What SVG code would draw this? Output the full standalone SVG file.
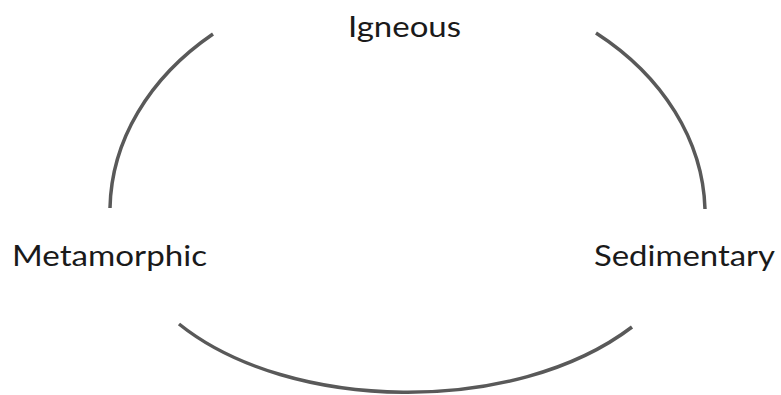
<svg xmlns="http://www.w3.org/2000/svg" width="781" height="395" viewBox="0 0 781 395">
<style>
.arc{fill:none;stroke:#595959;stroke-width:3.5}
.lbl{font-family:Lato,"Open Sans",sans-serif;font-size:28px;fill:#1a1a1a}
</style>
<rect width="781" height="395" fill="#fff"/>
<g id="connectors">
<path class="arc" d="M213,34 A299,235 0 0 0 110,208"/>
<path class="arc" d="M596,33 A299,235 0 0 1 705,209"/>
<path class="arc" d="M179,324 C290,413 515,416 632,327"/>
</g>
<g id="igneous"><text class="lbl" x="348" y="37" textLength="113" lengthAdjust="spacingAndGlyphs">Igneous</text></g>
<g id="metamorphic"><text class="lbl" x="12" y="266" textLength="195" lengthAdjust="spacingAndGlyphs">Metamorphic</text></g>
<g id="sedimentary"><text class="lbl" x="594" y="266" textLength="181" lengthAdjust="spacingAndGlyphs">Sedimentary</text></g>
</svg>
